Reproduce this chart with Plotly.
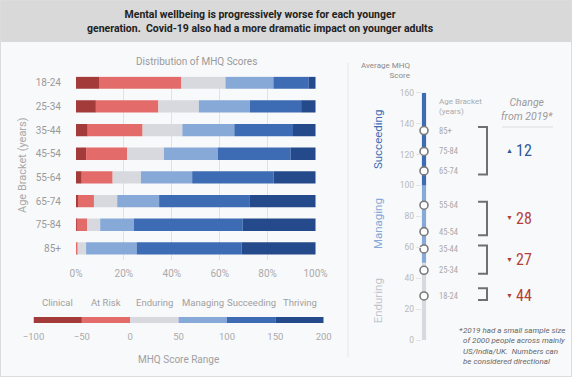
import numpy as np
import plotly.graph_objects as go

W, H = 572, 377

# ---------------- data ----------------
ages = ["18-24", "25-34", "35-44", "45-54", "55-64", "65-74", "75-84", "85+"]
levels = ["Clinical", "At Risk", "Enduring", "Managing", "Succeeding", "Thriving"]
level_colors = ["#a33b3b", "#e36c6a", "#d8d9de", "#87a9d8", "#3e6cb4", "#244a8b"]

clinical   = [9.6, 8.3, 4.9, 4.2, 2.4, 0.8, 0.3, 0.0]
at_risk    = [34.4, 26.1, 22.9, 17.2, 12.9, 6.7, 4.3, 0.6]
enduring   = [18.4, 16.9, 16.6, 15.3, 11.8, 9.7, 5.5, 3.6]
managing   = [20.0, 21.3, 21.7, 22.5, 21.4, 17.5, 14.1, 21.1]
succeeding = [14.8, 21.4, 24.5, 30.4, 34.0, 37.9, 45.4, 43.9]
thriving   = [2.8, 6.0, 9.4, 10.4, 17.5, 27.4, 30.4, 30.8]

score_edges = [-100, -50, 0, 50, 100, 150, 200]

avg_score = [28.5, 45.1, 58.9, 70.1, 87.2, 109.4, 122.0, 135.5]  # by age bracket

scale_bands = ["Enduring", "Managing", "Succeeding"]
scale_lo = [0, 50, 100]
scale_hi = [50, 100, 160]
scale_colors = ["#d8d9de", "#87a9d8", "#3e6cb4"]
scale_label_colors = ["#c4c5ca", "#87a9d8", "#3e6cb4"]

groups = [["65-74", "75-84", "85+"], ["45-54", "55-64"], ["25-34", "35-44"], ["18-24"]]
change_vals = ["12", "28", "27", "44"]
change_up = [True, False, False, False]

title_text = ("<b>Mental wellbeing is progressively worse for each younger<br>"
              "generation.  Covid-19 also had a more dramatic impact on younger adults</b>")
footnote_lines = ["2019 had a small sample size", "of 2000 people across mainly",
                  "US/India/UK.  Numbers can", "be considered directional"]


# ---------------- helpers ----------------
def fx(p):
    return p / W


def fy(p):
    return 1 - p / H


FONT = "Roboto, Noto Sans, sans-serif"
COND = "Roboto Condensed, Liberation Sans Narrow, DejaVu Sans Condensed, Roboto, sans-serif"

annotations = []


def ann(text, x, y, xref="paper", yref="paper", size=10, color="#999", family=FONT,
        xanchor="center", yanchor="middle", **kw):
    annotations.append(dict(text=text, x=x, y=y, xref=xref, yref=yref, showarrow=False,
                            xanchor=xanchor, yanchor=yanchor,
                            font=dict(family=family, size=size, color=color), **kw))


fig = go.Figure()

# ---- distribution stacked bars ----
series = [clinical, at_risk, enduring, managing, succeeding, thriving]
cum = np.zeros(len(ages))
for name, vals, col in zip(levels, series, level_colors):
    v = np.array(vals)
    fig.add_trace(go.Bar(y=ages, x=v, base=cum.copy(), orientation="h", width=0.52,
                         marker=dict(color=col, line=dict(width=0)), name=name,
                         xaxis="x", yaxis="y", hoverinfo="skip"))
    cum = cum + v

# ---- legend score range bar ----
for i, (name, col) in enumerate(zip(levels, level_colors)):
    fig.add_trace(go.Bar(y=[0], x=[score_edges[i + 1] - score_edges[i]], base=[score_edges[i]],
                         orientation="h", width=1, marker=dict(color=col, line=dict(width=0)),
                         xaxis="x2", yaxis="y2", hoverinfo="skip"))

# ---- right average score scale ----
for lo, hi, col in zip(scale_lo, scale_hi, scale_colors):
    fig.add_trace(go.Bar(x=[0], y=[hi - lo], base=[lo], width=1,
                         marker=dict(color=col, line=dict(width=0)),
                         xaxis="x3", yaxis="y3", hoverinfo="skip"))
fig.add_trace(go.Scatter(x=[0] * len(ages), y=avg_score, mode="markers",
                         marker=dict(size=8, color="white", line=dict(color="#7a7a7a", width=1.6)),
                         xaxis="x3", yaxis="y3", cliponaxis=False, hoverinfo="skip"))

shapes = []

# title band + frame
shapes.append(dict(type="rect", xref="paper", yref="paper", x0=0, x1=1, y0=fy(42), y1=1,
                   fillcolor="#d9d9d9", line=dict(width=0), layer="below"))
shapes.append(dict(type="rect", xref="paper", yref="paper", x0=fx(0.5), x1=fx(571.5),
                   y0=fy(376.5), y1=fy(0.5), line=dict(color="#dcdcdc", width=1),
                   fillcolor="rgba(0,0,0,0)", layer="below"))
ann(title_text, fx(260), fy(22), size=10.5, color="#222", align="center")

# left panel texts
ann("Distribution of MHQ Scores", fx(196), fy(61), size=10, color="#9a9a9a")
ann("Age Bracket (years)", fx(22), fy(165), size=11, color="#a8a8a8", textangle=-90)
for i, name in enumerate(levels):
    ann(name, (score_edges[i] + score_edges[i + 1]) / 2, fy(302), xref="x2",
        size=9.5, color="#a0a0a0")
ann("MHQ Score Range", (score_edges[0] + score_edges[-1]) / 2, fy(359), xref="x2",
    size=10, color="#a0a0a0")

# divider
shapes.append(dict(type="line", xref="paper", yref="paper", x0=fx(348), x1=fx(348),
                   y0=fy(63), y1=fy(357), line=dict(color="#e6e6e6", width=1)))

# right panel texts
ann("Average MHQ<br>Score", fx(412), fy(70), xanchor="right", align="right",
    size=8, color="#8a8a8a")
ann("Age Bracket<br>(years)", fx(437), fy(107), xanchor="left", align="left",
    size=8, color="#aaaaaa")
for a, s in zip(ages, avg_score):
    ann(a, fx(437), s, yref="y3", xanchor="left", size=8.5, color="#aaaaaa", family=COND)
for name, lo, hi, col in zip(scale_bands, scale_lo, scale_hi, scale_label_colors):
    ann(name, fx(378), (lo + hi) / 2, yref="y3", size=11.5, color=col, textangle=-90)

ann("<i>Change<br>from 2019*</i>", fx(527), fy(110), size=10.5, color="#9a9a9a", align="center")
shapes.append(dict(type="line", xref="paper", yref="paper", x0=fx(502), x1=fx(553),
                   y0=fy(127), y1=fy(127), line=dict(color="#dddddd", width=1)))

score_of = dict(zip(ages, avg_score))
for g, val, up in zip(groups, change_vals, change_up):
    vs = [score_of[a] for a in g]
    if len(vs) > 1:
        lo, hi = min(vs) - 2.3, max(vs) + 2.3
    else:
        lo, hi = min(vs) - 2.6, max(vs) + 5
    x0, x1 = fx(478), fx(487)
    shapes.append(dict(type="path", xref="paper", yref="y3",
                       path=f"M {x0},{hi} L {x1},{hi} L {x1},{lo} L {x0},{lo}",
                       line=dict(color="#707070", width=2)))
    mid = (min(vs) + max(vs)) / 2
    col = "#2f5597" if up else "#b5403a"
    ann("▲" if up else "▼", fx(509), mid, yref="y3", size=7, color=col)
    ann(val, fx(514), mid, yref="y3", xanchor="left", size=16, color=col, family=COND)

# footnote
ann("<i>*</i>", fx(457), fy(330), xanchor="left", size=8, color="#666")
ann("<i>" + "<br>".join(footnote_lines) + "</i>", fx(461), fy(324), xanchor="left",
    yanchor="top", align="left", size=8, color="#666")

fig.update_layout(
    width=W, height=H, margin=dict(l=0, r=0, t=0, b=0, pad=0, autoexpand=False),
    paper_bgcolor="#f8f9fb", plot_bgcolor="rgba(0,0,0,0)",
    barmode="overlay", showlegend=False,
    font=dict(family=FONT),
    xaxis=dict(domain=[fx(76), fx(316)], range=[0, 100.2], anchor="y", automargin=False,
               tickvals=[0, 20, 40, 60, 80, 100], ticktext=["0%", "20%", "40%", "60%", "80%", "100%"],
               showgrid=True, gridcolor="#e2e2e2", gridwidth=1, zeroline=False, showline=False,
               ticks="outside", ticklen=4, tickcolor="rgba(0,0,0,0)",
               tickfont=dict(size=10, color="#aaaaaa"), fixedrange=True),
    yaxis=dict(domain=[fy(260), fy(76.7)], type="category", categoryorder="array",
               categoryarray=ages, range=[7.49, -0.254], anchor="x", automargin=False,
               showgrid=False, zeroline=False, showline=False,
               ticks="outside", ticklen=12, tickcolor="rgba(0,0,0,0)",
               tickfont=dict(size=10, color="#9a9a9a"), fixedrange=True),
    xaxis2=dict(domain=[fx(33.5), fx(323.7)], range=[-100, 200], anchor="y2", automargin=False,
                tickvals=score_edges, showgrid=False, zeroline=False, showline=False,
                ticks="outside", ticklen=5, tickcolor="rgba(0,0,0,0)",
                tickfont=dict(size=9.5, color="#aaaaaa"), fixedrange=True),
    yaxis2=dict(domain=[fy(323), fy(317)], range=[-0.5, 0.5], anchor="x2", visible=False,
                fixedrange=True),
    xaxis3=dict(domain=[fx(421.7), fx(426.3)], range=[-0.5, 0.5], anchor="y3", visible=False,
                fixedrange=True),
    yaxis3=dict(domain=[fy(340), fy(92.7)], range=[0, 160], anchor="x3", automargin=False,
                tickvals=[0, 20, 40, 60, 80, 100, 120, 140, 160],
                showgrid=False, zeroline=False, showline=False,
                ticks="outside", ticklen=5, tickcolor="#e4e4e4",
                tickfont=dict(size=8.5, color="#b8b8b8"), fixedrange=True),
    shapes=shapes, annotations=annotations,
)

fig.write_html("out.html", config={"displayModeBar": False},
               post_script="document.body.style.margin='0px';"
                           "document.body.style.overflow='hidden';")
